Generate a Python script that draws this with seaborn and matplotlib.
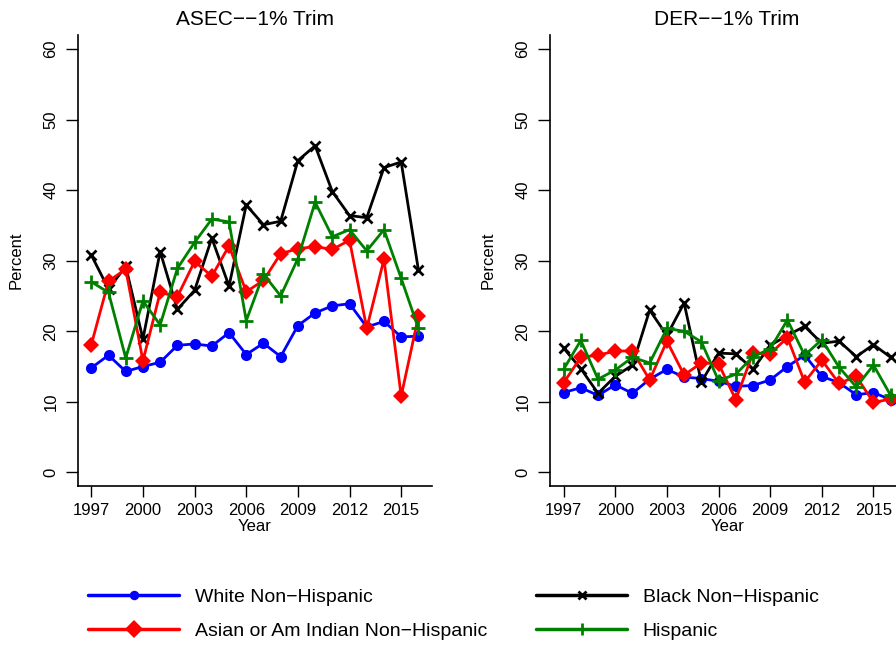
import matplotlib
matplotlib.use("Agg")
import matplotlib.pyplot as plt
import seaborn as sns
import pandas as pd
from matplotlib.lines import Line2D

years = list(range(1997, 2017))

# ASEC -- 1% Trim
asec_white = [14.8, 16.6, 14.3, 15.0, 15.6, 18.0, 18.2, 17.9, 19.8, 16.7,
              18.3, 16.4, 20.8, 22.6, 23.6, 23.9, 20.6, 21.4, 19.2, 19.3]
asec_black = [30.8, 26.0, 29.2, 18.9, 31.3, 23.1, 25.8, 33.2, 26.4, 37.9,
              35.1, 35.6, 44.2, 46.3, 39.8, 36.4, 36.1, 43.2, 44.0, 28.7]
asec_asian = [18.1, 27.1, 28.8, 15.8, 25.5, 24.9, 29.9, 27.8, 32.1, 25.6,
              27.2, 31.0, 31.7, 32.0, 31.6, 32.9, 20.4, 30.2, 10.8, 22.1]
asec_hisp = [27.0, 25.5, 16.2, 24.3, 20.9, 28.9, 32.6, 35.9, 35.5, 21.5,
             28.1, 25.0, 30.3, 38.3, 33.4, 34.4, 31.4, 34.4, 27.5, 20.4]

# DER -- 1% Trim
der_white = [11.3, 12.0, 10.9, 12.4, 11.2, 13.2, 14.6, 13.5, 13.3, 12.9,
             12.2, 12.3, 13.1, 15.0, 16.6, 13.6, 12.7, 11.0, 11.3, 10.3]
der_black = [17.6, 14.7, 11.2, 13.6, 15.2, 23.0, 19.4, 24.0, 12.8, 16.9,
             16.8, 14.6, 18.0, 19.4, 20.7, 18.3, 18.6, 16.4, 18.1, 16.3]
der_asian = [12.7, 16.3, 16.6, 17.2, 17.2, 13.1, 18.6, 13.8, 15.5, 15.4,
             10.3, 16.9, 16.8, 19.1, 12.8, 15.9, 12.6, 13.6, 9.9, 10.4]
der_hisp = [14.6, 18.7, 13.2, 14.5, 16.3, 15.5, 20.4, 20.0, 18.5, 13.0,
            13.9, 16.4, 17.5, 21.6, 16.6, 18.8, 14.9, 12.1, 15.2, 10.9]

panel_titles = ["ASEC\u2212\u22121% Trim", "DER\u2212\u22121% Trim"]
series_names = ["White Non\u2212Hispanic", "Black Non\u2212Hispanic",
                "Asian or Am Indian Non\u2212Hispanic", "Hispanic"]
y_ticks = [0, 10, 20, 30, 40, 50, 60]
x_ticks = [1997, 2000, 2003, 2006, 2009, 2012, 2015]

styles = {
    series_names[0]: dict(color="#0000ff", marker="o", markersize=8, mew=0),
    series_names[1]: dict(color="#000000", marker="x", markersize=7, mew=2),
    series_names[2]: dict(color="#ff0000", marker="D", markersize=8.5, mew=0),
    series_names[3]: dict(color="#008000", marker="+", markersize=10, mew=2),
}

panels = [
    [asec_white, asec_black, asec_asian, asec_hisp],
    [der_white, der_black, der_asian, der_hisp],
]

sns.set_theme(style="white")
plt.rcParams["font.family"] = ["Liberation Sans", "DejaVu Sans"]
plt.rcParams["text.color"] = "black"
plt.rcParams["axes.labelcolor"] = "black"
plt.rcParams["xtick.color"] = "black"
plt.rcParams["ytick.color"] = "black"

W, H = 896, 646
fig = plt.figure(figsize=(W / 100, H / 100), dpi=100)
fig.patch.set_facecolor("white")

ax_w = (432 - 77.7) / W
ax_h = (486 - 35) / H
ax_b = 1 - 486 / H
axes = [fig.add_axes([77.7 / W, ax_b, ax_w, ax_h]),
        fig.add_axes([550 / W, ax_b, ax_w, ax_h])]

for ax, title, data in zip(axes, panel_titles, panels):
    for name, vals in zip(series_names, data):
        st = styles[name]
        df = pd.DataFrame({"Year": years, "Percent": vals})
        sns.lineplot(data=df, x="Year", y="Percent", ax=ax, color=st["color"],
                     linewidth=2.0, marker=st["marker"],
                     markersize=st["markersize"], markeredgewidth=st["mew"],
                     markeredgecolor=st["color"], markerfacecolor=st["color"],
                     legend=False, clip_on=False)
    ax.set_xlim(1996.21, 2016.79)
    ax.set_ylim(-1.94, 62.0)
    ax.set_xticks(x_ticks)
    ax.set_yticks(y_ticks)
    ax.set_xticklabels([str(t) for t in x_ticks], fontsize=12)
    ax.set_yticklabels([str(t) for t in y_ticks], fontsize=12, rotation=90,
                       va="center")
    ax.tick_params(axis="y", length=9, width=1, colors="black", pad=5,
                   left=True, direction="out")
    ax.tick_params(axis="x", length=8, width=1, colors="black", pad=4,
                   bottom=True, direction="out")
    for s in ["top", "right"]:
        ax.spines[s].set_visible(False)
    for s in ["left", "bottom"]:
        ax.spines[s].set_visible(True)
        ax.spines[s].set_color("black")
        ax.spines[s].set_linewidth(1.2)
    ax.set_xlabel("Year", fontsize=12, labelpad=1, color="black")
    ax.set_ylabel("Percent", fontsize=12, labelpad=14, color="black")
    ax.set_title(title, fontsize=15, pad=7, color="black")
    ax.grid(False)
    ax.set_facecolor("white")

handles = [Line2D([0], [0], color=styles[n]["color"], lw=2.5,
                  marker=styles[n]["marker"],
                  markersize=styles[n]["markersize"] * (0.85 if n != series_names[2] else 1.1),
                  markeredgewidth=styles[n]["mew"],
                  markerfacecolor=styles[n]["color"],
                  markeredgecolor=styles[n]["color"]) for n in series_names]
order = [0, 2, 1, 3]
leg = fig.legend([handles[i] for i in order], [series_names[i] for i in order],
                 loc="upper left", bbox_to_anchor=(88 / W, 1 - 588 / H),
                 ncol=2, frameon=False, fontsize=14, handlelength=4.7,
                 handletextpad=0.8, columnspacing=2.5, labelspacing=0.85,
                 numpoints=1, borderaxespad=0, borderpad=0)
for t in leg.get_texts():
    t.set_color("black")

fig.savefig("out.png", dpi=100, facecolor="white")
